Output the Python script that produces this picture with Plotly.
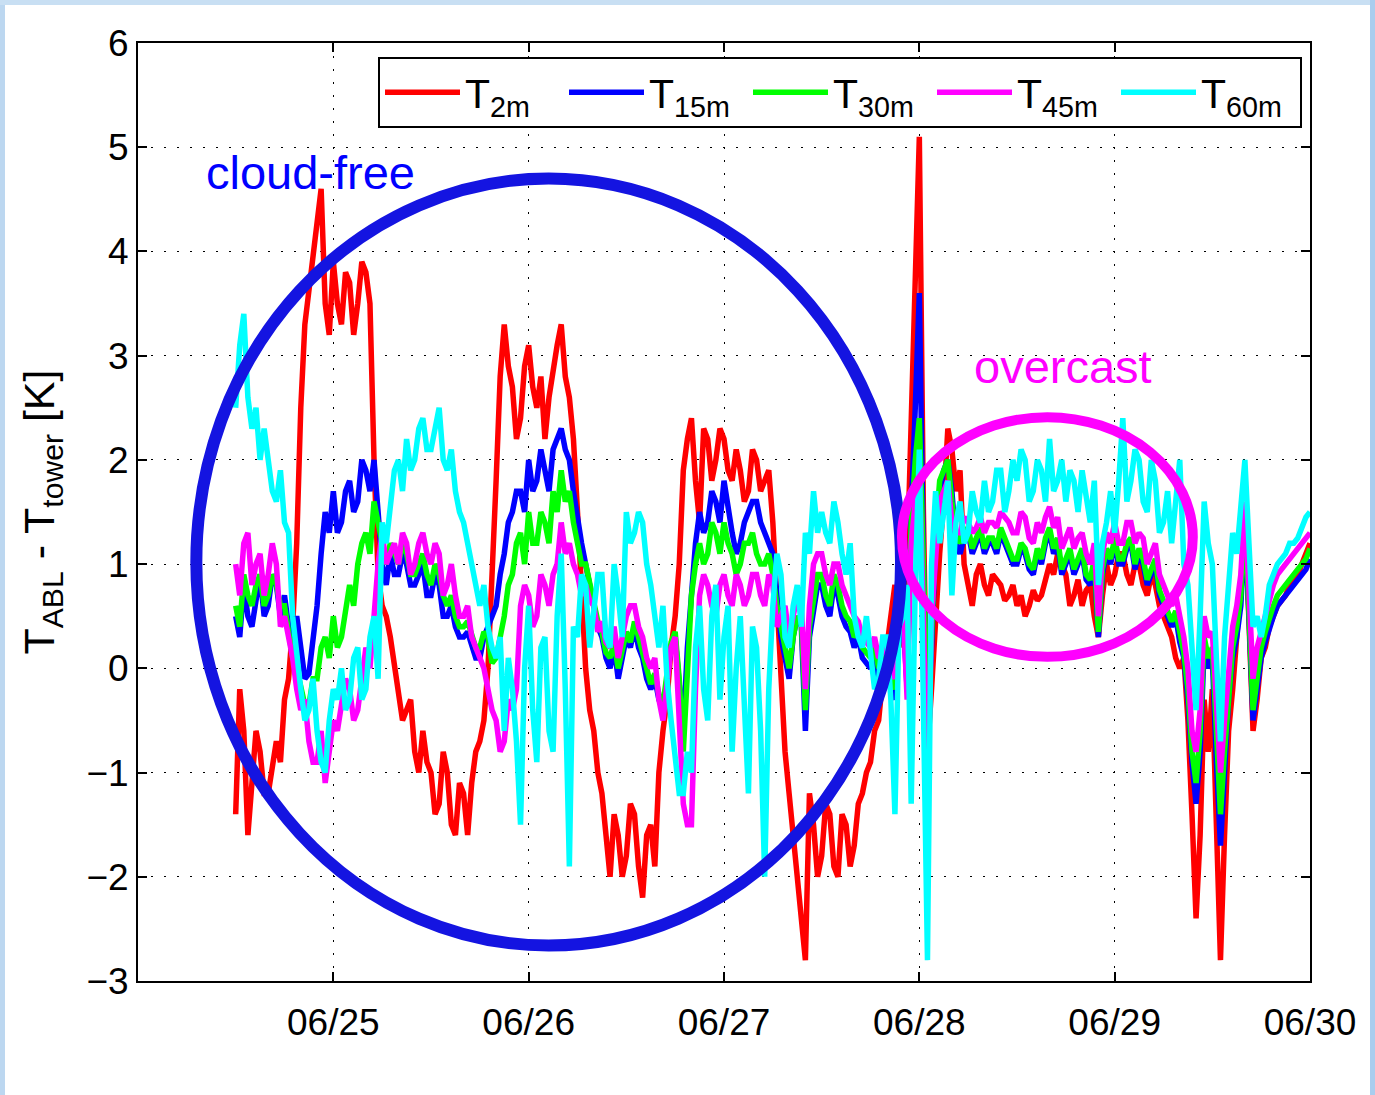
import plotly.graph_objects as go
import pandas as pd

# ------------- data: values on the full hour (06/24 12:00 .. 06/30 00:00) -------------
# ------------- and values on the half hour (06/24 12:30 .. 06/29 23:30) ---------------
start_time = "2013-06-24 12:00"
end_time = "2013-06-30 00:00"

T2m_hour = [
    -1.4, -0.6, -1.1, -0.8, -1.2, -0.7, -0.3, 0.4, 2.5, 3.6, 4.2, 3.5,
    3.9, 3.3, 3.7, 3.5, 3.8, 2.0, 0.6, 0.3, -0.2, -0.4, -0.8, -0.6,
    -1.0, -1.3, -1.0, -1.6, -1.2, -1.1, -0.7, 0.0, 1.8, 3.3, 2.7, 2.4,
    3.1, 2.5, 2.2, 2.9, 3.3, 2.6, 1.5, 0.0, -0.6, -1.2, -2.0, -1.6,
    -1.8, -1.4, -2.2, -1.5, -1.0, -0.3, 0.5, 1.9, 2.4, 1.4, 2.2, 2.0,
    2.2, 1.8, 1.9, 1.7, 2.0, 1.8, 1.4, -0.2, -1.2, -2.0, -2.8, -1.5,
    -1.8, -1.4, -2.0, -1.5, -1.7, -1.2, -0.9, -0.5, 0.2, 0.8, 0.5, 2.5,
    5.1, -0.8, 0.5, 1.6, 2.1, 1.9, 0.8, 0.9, 0.8, 0.9, 0.8, 0.7,
    0.6, 0.5, 0.75, 0.7, 1.0, 1.1, 0.9, 0.7, 0.6, 0.8, 0.3, 1.0,
    0.9, 1.1, 0.8, 1.0, 0.7, 0.8, 0.5, 0.3, 0.0, -0.5, -2.4, -0.3,
    -0.2, -2.8, -0.6, 0.3, 1.5, -0.6, 0.1, 0.4, 0.6, 0.7, 0.85, 1.0, 1.2,
]
T2m_half = [
    -0.2, -1.6, -0.6, -1.2, -0.9, -0.9, -0.1, 1.2, 3.3, 4.0, 4.6, 3.2,
    3.5, 3.8, 3.2, 3.9, 3.5, 0.9, 0.5, 0.0, -0.5, -0.3, -1.0, -0.9,
    -1.4, -0.8, -1.5, -1.1, -1.6, -0.8, -0.5, 0.8, 2.8, 2.9, 2.2, 2.9,
    2.7, 2.8, 2.6, 3.1, 2.8, 2.2, 0.6, -0.4, -1.0, -1.6, -1.4, -2.0,
    -1.3, -1.9, -1.6, -1.9, -0.6, 0.2, 1.0, 2.2, 1.8, 2.3, 1.8, 2.3,
    1.9, 2.1, 1.6, 2.1, 1.7, 1.9, 0.6, -0.8, -1.6, -2.4, -1.2, -2.0,
    -1.3, -1.9, -1.4, -1.9, -1.3, -1.0, -0.6, -0.1, 0.6, 0.2, 1.0, 4.0,
    1.5, -0.2, 1.1, 2.3, 1.7, 1.0, 0.6, 1.0, 0.7, 0.85, 0.65, 0.8,
    0.7, 0.6, 0.65, 0.85, 0.9, 1.0, 0.6, 0.85, 0.75, 0.5, 0.7, 0.8,
    1.1, 0.9, 1.0, 0.8, 0.9, 0.6, 0.4, 0.1, 0.1, -1.4, -1.6, -0.8,
    -1.5, -1.6, -0.2, 0.8, 0.6, -0.3, 0.2, 0.5, 0.65, 0.8, 0.9, 1.1,
]
T15m_hour = [
    0.5, 0.8, 0.4, 0.9, 0.6, 0.8, 0.7, 0.3, 0.2, -0.05, 0.6, 1.5,
    1.7, 1.4, 1.8, 1.6, 1.9, 2.0, 1.0, 1.1, 0.9, 1.0, 0.8, 1.0,
    0.7, 0.8, 0.5, 0.4, 0.3, 0.2, 0.1, 0.4, 0.6, 1.1, 1.5, 1.7,
    2.0, 1.8, 1.9, 2.1, 2.3, 2.0, 1.4, 1.0, 0.6, 0.3, 0.0, -0.1,
    0.3, 0.4, 0.1, -0.2, -0.3, -0.1, 0.3, -0.6, 0.8, 1.5, 1.4, 1.6,
    1.8, 1.3, 1.2, 1.5, 1.6, 1.3, 1.1, 0.3, -0.1, 0.5, -0.6, 0.6,
    0.8, 0.5, 0.7, 0.4, 0.2, 0.1, 0.0, -0.1, 0.1, -0.3, 0.5, 1.5,
    3.6, -0.5, 1.2, 1.9, 1.7, 1.1, 1.3, 1.2, 1.1, 1.2, 1.3, 1.1,
    1.0, 1.1, 0.9, 1.0, 1.3, 1.2, 1.0, 0.9, 1.1, 0.8, 0.3, 1.1,
    1.2, 1.0, 1.2, 1.1, 0.8, 1.0, 0.6, 0.4, 0.25, -0.3, -1.3, 0.2,
    0.1, -1.7, -0.3, 0.3, 1.4, -0.5, 0.1, 0.4, 0.6, 0.7, 0.8, 0.9, 1.05,
]
T15m_half = [
    0.3, 0.5, 0.7, 0.5, 0.9, 0.5, 0.4, 0.5, -0.1, 0.3, 1.1, 1.3,
    1.3, 1.7, 1.5, 2.0, 1.7, 1.5, 0.8, 0.9, 1.1, 0.8, 0.9, 0.7,
    0.9, 0.5, 0.6, 0.3, 0.35, 0.1, 0.3, 0.5, 0.9, 1.4, 1.7, 1.5,
    1.7, 2.1, 1.7, 2.2, 2.1, 1.7, 1.2, 0.8, 0.4, 0.1, 0.2, 0.1,
    0.2, 0.2, -0.1, -0.1, -0.4, 0.2, -0.2, 0.2, 1.2, 1.3, 1.7, 1.4,
    1.5, 1.1, 1.4, 1.6, 1.4, 1.2, 0.7, 0.1, 0.3, 0.4, 0.3, 0.8,
    0.6, 0.8, 0.5, 0.35, 0.3, 0.05, 0.1, 0.0, -0.2, 0.3, -0.2, 2.5,
    1.0, 0.2, 1.7, 2.0, 1.2, 1.25, 1.1, 1.3, 1.2, 1.1, 1.2, 1.0,
    1.15, 0.95, 1.1, 1.2, 1.1, 0.9, 1.1, 1.0, 0.85, 1.0, 0.9, 1.0,
    1.0, 1.15, 0.95, 1.0, 0.9, 0.7, 0.5, 0.5, 0.1, -0.9, -0.8, 0.0,
    -0.9, -1.0, 0.1, 0.6, 0.5, -0.2, 0.25, 0.5, 0.65, 0.75, 0.85, 0.95,
]
T30m_hour = [
    0.6, 0.9, 0.6, 0.9, 0.7, 0.8, 0.6, 0.1, -0.2, -0.35, -0.1, 0.3,
    0.5, 0.3, 0.8, 1.0, 1.3, 1.6, 1.2, 1.2, 1.0, 1.1, 0.9, 1.1,
    0.8, 0.9, 0.6, 0.5, 0.4, 0.3, 0.2, 0.3, 0.1, 0.5, 0.9, 1.3,
    1.5, 1.2, 1.4, 1.7, 1.9, 1.7, 1.2, 1.0, 0.6, 0.35, 0.1, 0.0,
    0.35, 0.45, 0.15, -0.15, -0.25, -0.05, 0.35, -0.8, 0.7, 1.2, 1.1, 1.3,
    1.4, 1.1, 1.0, 1.2, 1.1, 1.0, 0.9, 0.4, 0.0, 0.5, -0.4, 0.7,
    0.9, 0.6, 0.8, 0.5, 0.3, 0.2, 0.1, 0.0, 0.2, -0.2, 0.6, 1.4,
    2.4, -0.4, 1.3, 1.9, 1.6, 1.2, 1.35, 1.25, 1.15, 1.25, 1.35, 1.15,
    1.05, 1.15, 0.95, 1.05, 1.35, 1.25, 1.05, 0.95, 1.15, 0.85, 0.35, 1.15,
    1.25, 1.05, 1.25, 1.15, 0.85, 1.05, 0.65, 0.45, 0.35, -0.2, -1.1, 0.3,
    0.2, -1.4, -0.2, 0.4, 1.5, -0.4, 0.2, 0.5, 0.7, 0.8, 0.9, 1.0, 1.15,
]
T30m_half = [
    0.4, 0.7, 0.8, 0.6, 0.9, 0.6, 0.3, 0.0, -0.35, -0.1, 0.2, 0.1,
    0.2, 0.6, 0.6, 1.2, 1.1, 1.4, 1.0, 1.1, 1.2, 0.9, 1.0, 0.9,
    1.0, 0.7, 0.7, 0.4, 0.45, 0.2, 0.35, 0.05, 0.3, 0.8, 1.2, 1.0,
    1.2, 1.5, 1.2, 1.5, 1.6, 1.4, 1.0, 0.8, 0.45, 0.15, 0.25, 0.15,
    0.25, 0.3, 0.0, -0.05, -0.35, 0.25, -0.1, 0.1, 1.0, 1.0, 1.4, 1.1,
    1.2, 0.9, 1.2, 1.3, 1.0, 1.1, 0.6, 0.2, 0.3, 0.45, 0.4, 0.9,
    0.7, 0.9, 0.6, 0.45, 0.35, 0.15, 0.2, 0.1, -0.1, 0.4, -0.1, 2.0,
    1.0, 0.3, 1.8, 2.0, 1.3, 1.3, 1.15, 1.35, 1.25, 1.15, 1.25, 1.05,
    1.2, 1.0, 1.15, 1.25, 1.15, 0.95, 1.15, 1.05, 0.9, 1.05, 0.95, 1.05,
    1.05, 1.2, 1.0, 1.05, 0.95, 0.75, 0.55, 0.55, 0.15, -0.8, -0.6, 0.1,
    -0.7, -0.8, 0.2, 0.7, 0.6, -0.1, 0.35, 0.6, 0.75, 0.85, 0.95, 1.05,
]
T45m_hour = [
    1.0, 1.2, 0.8, 1.1, 0.9, 1.0, 0.5, 0.1, -0.4, -0.7, -0.9, -1.1,
    -0.5, -0.3, -0.2, -0.4, 0.2, 0.6, 1.3, 1.1, 1.0, 1.2, 1.0, 1.3,
    1.0, 1.1, 0.8, 0.7, 0.5, 0.3, 0.1, -0.2, -0.5, -0.7, -0.4, 0.6,
    0.7, 0.5, 0.8, 0.9, 1.4, 1.2, 0.9, 0.8, 0.6, 0.45, 0.2, 0.1,
    0.5, 0.6, 0.3, 0.0, -0.3, -0.2, 0.3, -1.3, -1.5, 0.7, 0.8, 0.5,
    0.9, 0.6, 0.8, 0.7, 0.9, 0.6, 0.8, 0.5, 0.3, 0.7, -0.2, 1.0,
    1.1, 0.8, 1.0, 0.7, 0.5, 0.3, 0.2, 0.1, 0.3, -0.1, 0.6, 1.2,
    1.9, -1.3, 1.1, 1.7, 1.4, 1.3, 1.4, 1.35, 1.3, 1.4, 1.5, 1.4,
    1.3, 1.45, 1.2, 1.3, 1.55, 1.45, 1.25, 1.15, 1.3, 1.0, 0.5, 1.3,
    1.4, 1.2, 1.4, 1.3, 1.0, 1.2, 0.8, 0.6, 0.5, 0.0, -0.8, 0.5,
    0.35, -1.0, 0.0, 0.6, 1.6, -0.1, 0.35, 0.7, 0.9, 1.0, 1.1, 1.2, 1.3,
]
T45m_half = [
    0.7, 1.3, 1.0, 0.7, 1.2, 0.4, 0.3, -0.2, -0.3, -0.9, -0.6, -0.8,
    -0.6, -0.1, -0.5, -0.1, 0.0, 1.0, 1.0, 1.2, 1.3, 0.9, 1.2, 1.1,
    1.2, 0.7, 1.0, 0.5, 0.6, 0.2, 0.0, -0.4, -0.8, -0.3, -0.2, 0.8,
    0.4, 0.9, 0.6, 1.0, 1.1, 1.0, 0.7, 0.65, 0.35, 0.25, 0.4, 0.3,
    0.6, 0.4, 0.1, 0.1, -0.5, 0.2, -0.4, -1.5, -0.2, 0.9, 0.6, 0.8,
    0.7, 0.9, 0.6, 0.9, 0.7, 0.9, 0.4, 0.6, 0.5, 0.6, 0.6, 1.1,
    0.9, 1.0, 0.8, 0.6, 0.45, 0.25, 0.3, 0.15, 0.0, 0.5, -0.3, 1.6,
    0.5, 0.5, 1.6, 1.8, 1.3, 1.45, 1.3, 1.45, 1.4, 1.35, 1.45, 1.3,
    1.5, 1.25, 1.4, 1.45, 1.35, 1.15, 1.35, 1.25, 1.1, 1.2, 1.1, 1.2,
    1.2, 1.4, 1.2, 1.25, 1.1, 0.9, 0.7, 0.7, 0.3, -0.6, -0.4, 0.3,
    -0.4, -0.5, 0.4, 0.9, 0.8, 0.2, 0.5, 0.8, 0.95, 1.05, 1.15, 1.25,
]
T60m_hour = [
    2.5, 3.4, 2.3, 2.0, 2.0, 1.6, 1.4, 0.5, -0.2, -0.4, -0.6, -1.0,
    -0.2, 0.0, -0.3, 0.2, -0.2, 0.5, 1.4, 1.6, 2.0, 2.2, 2.0, 2.4,
    2.1, 2.5, 1.9, 1.7, 1.4, 1.0, 0.6, 0.4, 0.1, -0.6, -0.2, -1.5,
    0.6, -0.9, 0.3, -0.8, 1.1, -1.9, 0.3, 0.8, 0.5, 0.9, 0.2, 0.7,
    1.5, 1.3, 1.4, 0.8, 0.2, -0.1, -0.9, -1.2, -1.0, 0.6, -0.5, 0.8,
    0.3, -0.8, 0.5, -1.2, 0.2, -2.0, 0.6, 0.9, 0.2, 0.8, 1.3, 1.7,
    1.5, 1.2, 1.4, 0.9, 0.5, 0.2, 0.1, -0.1, 0.3, -1.4, 0.5, -1.3,
    2.1, -2.8, 1.7, 1.5, 0.7, 1.6, 1.3, 1.5, 1.8, 1.6, 1.9, 1.7,
    1.8, 2.0, 1.7, 1.9, 2.2, 1.8, 1.6, 1.8, 1.9, 1.4, 0.8, 1.4,
    1.3, 2.4, 1.8, 2.0, 1.5, 1.8, 1.4, 1.2, 2.0, 0.8, -0.4, 1.6,
    1.0, -0.7, 0.9, 1.1, 2.0, 0.4, 0.3, 0.8, 1.0, 1.1, 1.2, 1.35, 1.5,
]
T60m_half = [
    3.1, 2.6, 2.5, 2.3, 1.7, 1.9, 1.3, 0.1, -0.5, -0.1, -0.9, -0.5,
    -0.3, -0.4, 0.1, -0.3, 0.3, -0.1, 1.2, 1.9, 1.7, 1.9, 2.3, 2.1,
    2.3, 2.0, 2.1, 1.5, 1.2, 0.8, 0.8, 0.2, 0.3, 0.1, -0.7, 0.0,
    -0.4, 0.2, -0.6, 0.5, -0.2, 0.4, 0.9, 0.2, 0.9, 0.3, 1.0, 0.3,
    1.2, 1.5, 1.0, 0.5, 0.6, -0.5, -1.2, -0.8, 0.2, -0.2, 0.5, -0.3,
    0.6, 0.0, -0.4, 0.4, -0.6, -0.2, 1.1, 0.3, 0.6, 0.4, 1.1, 1.3,
    1.3, 1.6, 1.1, 1.2, 0.3, 0.5, -0.2, 0.3, -0.3, 0.4, 0.8, 0.8,
    0.0, 1.0, 1.2, 1.8, 1.4, 1.2, 1.7, 1.4, 1.5, 1.9, 1.5, 2.0,
    2.1, 1.6, 2.0, 1.6, 1.7, 2.0, 1.9, 1.5, 1.6, 1.8, 1.2, 1.7,
    1.8, 1.6, 2.1, 1.6, 2.0, 1.3, 1.7, 1.6, 1.0, 0.2, 0.5, 1.2,
    0.1, 0.3, 1.3, 1.6, 1.2, 0.5, 0.5, 0.9, 1.05, 1.2, 1.25, 1.45,
]

series_names = ["T<sub>2m</sub>", "T<sub>15m</sub>", "T<sub>30m</sub>",
                "T<sub>45m</sub>", "T<sub>60m</sub>"]
series_hour = [T2m_hour, T15m_hour, T30m_hour, T45m_hour, T60m_hour]
series_half = [T2m_half, T15m_half, T30m_half, T45m_half, T60m_half]
series_colors = ["#ff0000", "#0000ff", "#00ff00", "#ff00ff", "#00ffff"]

x_tick_dates = ["2013-06-25", "2013-06-26", "2013-06-27",
                "2013-06-28", "2013-06-29", "2013-06-30"]
x_tick_labels = ["06/25", "06/26", "06/27", "06/28", "06/29", "06/30"]
y_ticks = [-3, -2, -1, 0, 1, 2, 3, 4, 5, 6]

times = pd.date_range(start_time, end_time, freq="30min")


def merge(hour_vals, half_vals):
    out = []
    for i, v in enumerate(hour_vals):
        out.append(v)
        if i < len(half_vals):
            out.append(half_vals[i])
    return out


# ---------------- figure ----------------
W, H = 1375, 1095
ML, MR, MT, MB = 138, 65, 43, 114
PW, PH = W - ML - MR, H - MT - MB


def xp(px):
    return (px - ML) / PW


def yp(py):
    return 1 - (py - MT) / PH


FONT = "Liberation Sans, Arial, Helvetica, sans-serif"

fig = go.Figure()
for name, hv, hh, col in zip(series_names, series_hour, series_half, series_colors):
    fig.add_trace(go.Scatter(x=times, y=merge(hv, hh), mode="lines", name=name,
                             line=dict(color=col, width=5.5)))

axis_common = dict(
    showline=True, linecolor="black", linewidth=2, mirror="ticks",
    ticks="inside", ticklen=9, tickwidth=2, tickcolor="black",
    showgrid=True, gridcolor="black", gridwidth=1.3, griddash="2px,11px",
    zeroline=False, tickfont=dict(size=37, family=FONT, color="black"),
)

fig.update_xaxes(type="date", range=["2013-06-24", "2013-06-30"],
                 tickvals=x_tick_dates, ticktext=x_tick_labels,
                 ticklabelstandoff=8, **axis_common)
fig.update_yaxes(range=[-3, 6], tickvals=y_ticks,
                 title=dict(text="T<sub>ABL</sub> - T<sub>tower</sub> [K]",
                            font=dict(size=43, family=FONT, color="black"),
                            standoff=18),
                 **axis_common)

shapes = [
    # cloud-free ellipse
    dict(type="circle", xref="x", yref="y", layer="above",
         x0="2013-06-24 07:10", x1="2013-06-27 21:45", y0=-2.66, y1=4.70,
         line=dict(color="rgb(20,20,225)", width=12)),
    # overcast ellipse
    dict(type="circle", xref="x", yref="y", layer="above",
         x0="2013-06-27 21:52", x1="2013-06-29 09:36", y0=0.11, y1=2.41,
         line=dict(color="#ff00ff", width=10)),
    # light-blue frame of the picture
    dict(type="rect", xref="paper", yref="paper", layer="above",
         x0=xp(0), x1=xp(5), y0=yp(H), y1=yp(0),
         fillcolor="#bcd7f0", line=dict(width=0)),
    dict(type="rect", xref="paper", yref="paper", layer="above",
         x0=xp(0), x1=xp(W), y0=yp(5), y1=yp(0),
         fillcolor="#c8dff3", line=dict(width=0)),
    dict(type="rect", xref="paper", yref="paper", layer="above",
         x0=xp(1370), x1=xp(W), y0=yp(H), y1=yp(0),
         fillcolor="#a9cdee", line=dict(width=0)),
]

annotations = [
    dict(text="cloud-free", xref="x", yref="y", x="2013-06-24 08:10", y=4.76,
         xanchor="left", yanchor="middle", showarrow=False,
         font=dict(size=47, family=FONT, color="#0000ff")),
    dict(text="overcast", xref="x", yref="y", x="2013-06-28 06:27", y=2.9,
         xanchor="left", yanchor="middle", showarrow=False,
         font=dict(size=47, family=FONT, color="#ff00ff")),
]

fig.update_layout(
    width=W, height=H,
    margin=dict(l=ML, r=MR, t=MT, b=MB, autoexpand=False),
    paper_bgcolor="white", plot_bgcolor="white",
    font=dict(family=FONT, color="black"),
    shapes=shapes, annotations=annotations,
    showlegend=True,
    legend=dict(orientation="h", x=xp(378), y=yp(57), xanchor="left",
                yanchor="top", bgcolor="white", bordercolor="black",
                borderwidth=2, itemwidth=75, entrywidth=94,
                entrywidthmode="pixels",
                font=dict(size=41, family="Liberation Sans Narrow, " + FONT,
                          color="black")),
)

fig.write_html("out.html", config={"displayModeBar": False},
               post_script="document.body.style.margin='0';"
                           "document.body.style.padding='0';")
